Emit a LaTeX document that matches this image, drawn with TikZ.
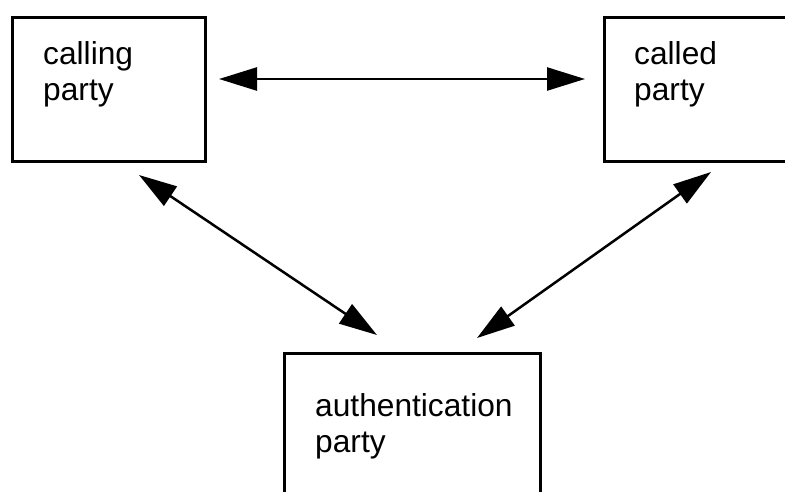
\documentclass[tikz,border=0pt]{standalone}
\usepackage{fontspec}
\setmainfont{Liberation Sans}
\usetikzlibrary{arrows.meta}
\begin{document}
\begin{tikzpicture}[x=1pt,y=-1pt,
  party/.style={draw=black,line width=2.7pt,fill=none,inner sep=0pt,anchor=north west},
  label/.style={inner sep=0pt,anchor=base west,align=left,
    font=\fontsize{31.7}{36}\selectfont},
  link/.style={line width=2.5pt,{Triangle[length=38pt,width=23pt]}-{Triangle[length=38pt,width=23pt]}}]
  \useasboundingbox (0,0) rectangle (785,491);
  \begin{scope}
    \clip (0,0) rectangle (785,491);
    % the three parties
    \node[party,minimum width=193pt,minimum height=144pt] (calling) at (11,16) {};
    \node[party,minimum width=220pt,minimum height=144pt] (called) at (603,16) {};
    \node[party,minimum width=256pt,minimum height=160pt] (auth) at (283,352) {};
  \end{scope}
  % labels (the base anchor sits on the last line)
  \node[label] (tcalling) at (43,100) {calling\\party};
  \node[label] (tcalled) at (634,100) {called\\party};
  \node[label] (tauth) at (315,452) {authentication\\party};
  % arrow end points, kept clear of the boxes
  \coordinate (c1) at (219,79);
  \coordinate (d1) at (585,79);
  \coordinate (c2) at (139,175);
  \coordinate (a2) at (377,335);
  \coordinate (d3) at (711,172);
  \coordinate (a3) at (477,338);
  % messages between the parties
  \draw[link] (c1) -- (d1);
  \draw[link] (c2) -- (a2);
  \draw[link] (d3) -- (a3);
\end{tikzpicture}
\end{document}
